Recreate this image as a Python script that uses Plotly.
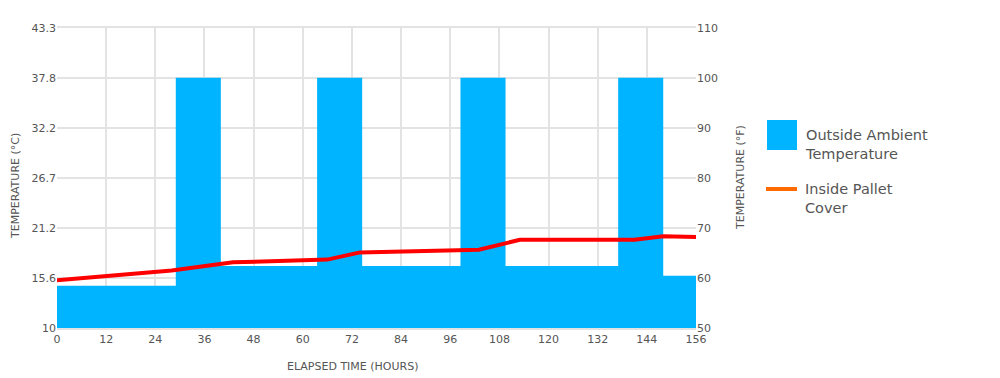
import plotly.graph_objects as go

# Outside ambient temperature (°C), step boundaries in hours
ambient_hours = [0, 29, 40, 63.5, 74.5, 98.5, 109.5, 137, 148, 156]
ambient_temp_c = [14.7, 37.8, 16.9, 37.8, 16.9, 37.8, 16.9, 37.8, 15.8, 15.8]

# Inside pallet cover temperature (°C)
inside_hours = [0, 28, 43, 66, 74, 103, 113, 141, 148, 156]
inside_temp_c = [15.3, 16.4, 17.3, 17.6, 18.4, 18.7, 19.8, 19.8, 20.2, 20.1]

x_ticks = list(range(0, 157, 12))
c_tick_vals = [10, 15.556, 21.111, 26.667, 32.222, 37.778, 43.333]
c_tick_text = ["10", "15.6", "21.2", "26.7", "32.2", "37.8", "43.3"]
f_tick_vals = [50, 60, 70, 80, 90, 100, 110]

legend_names = ["Outside Ambient<br>Temperature", "Inside Pallet<br>Cover"]

BLUE = "#00B4FF"
RED = "#FF0000"
ORANGE = "#FF6A00"
GRID = "#E3E3E3"
TXT = "#555555"
FONT = "DejaVu Sans"

# plot area in page pixels (page has 8px body margin)
PL, PR, PT, PB = 57, 696, 28, 328
def px(xp):
    return (xp - PL) / (PR - PL)
def py(yp):
    return (PB - yp) / (PB - PT)

fig = go.Figure()
fig.add_trace(go.Scatter(
    x=ambient_hours, y=ambient_temp_c, mode="lines", line=dict(shape="hv", width=0, color=BLUE),
    fill="tozeroy", fillcolor=BLUE, name="Outside Ambient Temperature", hoverinfo="skip",
    showlegend=False))
fig.add_trace(go.Scatter(
    x=inside_hours, y=inside_temp_c, mode="lines", line=dict(color=RED, width=4),
    showlegend=False, name="Inside Pallet Cover"))
# dummy trace to activate the °F axis
fig.add_trace(go.Scatter(
    x=[0], y=[50], yaxis="y2", mode="markers", marker=dict(opacity=0),
    showlegend=False, hoverinfo="skip"))

shapes = [
    dict(type="rect", xref="paper", yref="paper", x0=px(767), x1=px(797), y0=py(150), y1=py(120),
         fillcolor=BLUE, line=dict(width=0)),
    dict(type="line", xref="paper", yref="paper", x0=px(766), x1=px(797), y0=py(189), y1=py(189),
         line=dict(color=ORANGE, width=4)),
]

annotations = [
    dict(text="ELAPSED TIME (HOURS)", xref="paper", yref="paper", x=px(352), y=py(366),
         xanchor="center", yanchor="middle", showarrow=False, font=dict(size=11, color=TXT)),
    dict(text="TEMPERATURE (°C)", xref="paper", yref="paper", x=px(16), y=py(186),
         xanchor="center", yanchor="middle", textangle=-90, showarrow=False,
         font=dict(size=11, color=TXT)),
    dict(text="TEMPERATURE (°F)", xref="paper", yref="paper", x=px(740), y=py(178),
         xanchor="center", yanchor="middle", textangle=-90, showarrow=False,
         font=dict(size=11, color=TXT)),
    dict(text=legend_names[0], xref="paper", yref="paper", x=px(803), y=py(144),
         xanchor="left", yanchor="middle", align="left", showarrow=False,
         font=dict(size=14.5, color=TXT)),
    dict(text=legend_names[1], xref="paper", yref="paper", x=px(803), y=py(198),
         xanchor="left", yanchor="middle", align="left", showarrow=False,
         font=dict(size=14.5, color=TXT)),
]

fig.update_layout(
    width=1000, height=378,
    margin=dict(l=PL - 8, r=1000 - PR + 8, t=PT - 8, b=378 - PB + 8),
    paper_bgcolor="white", plot_bgcolor="white",
    font=dict(family=FONT, color=TXT, size=11),
    xaxis=dict(range=[0, 156], tickvals=x_ticks, showgrid=True, gridcolor=GRID, gridwidth=2,
               zeroline=False, showline=True, linecolor=GRID, linewidth=2, mirror=True,
               ticks="", tickfont=dict(size=11, color=TXT)),
    yaxis=dict(range=[10, 43.333], tickvals=c_tick_vals, ticktext=c_tick_text, showgrid=True,
               gridcolor=GRID, gridwidth=2, zeroline=False, ticks="", automargin=False,
               tickfont=dict(size=11, color=TXT)),
    yaxis2=dict(range=[50, 110], tickvals=f_tick_vals, overlaying="y", side="right",
                showgrid=False, zeroline=False, ticks="", automargin=False,
                tickfont=dict(size=11, color=TXT)),
    shapes=shapes,
    annotations=annotations,
    showlegend=False,
)

fig.write_html("out.html")
